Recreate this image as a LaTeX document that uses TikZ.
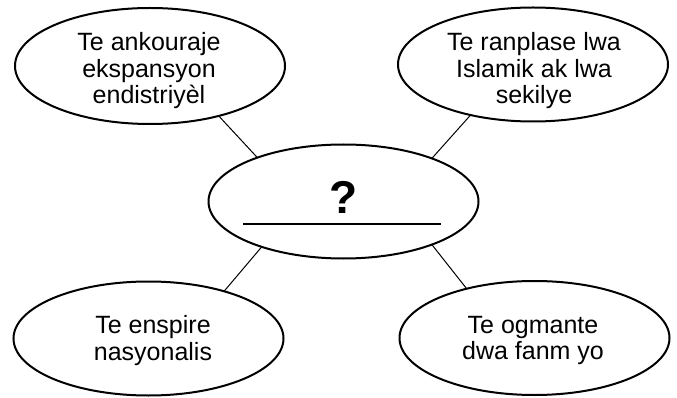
\documentclass[tikz,border=0pt]{standalone}
\usepackage{fontspec}
\setmainfont{Liberation Sans}
\usetikzlibrary{shapes.geometric}
\begin{document}
\begin{tikzpicture}[x=1pt,y=-1pt,
  bubble/.style={ellipse,draw,line width=2pt,minimum width=270pt,minimum height=114pt,inner sep=0pt,outer sep=0pt},
  btext/.style={align=center,font=\fontsize{25}{26.7}\selectfont,inner sep=0pt,anchor=center},
  link/.style={line width=1pt}]
\useasboundingbox (0,0) rectangle (677,398);
\node[bubble,minimum height=116pt] (tl) at (150,66) {};
\node[bubble,minimum height=114pt] (tr) at (533,64.5) {};
\node[bubble] (c) at (343.5,201.5) {};
\node[bubble] (bl) at (148.5,338.5) {};
\node[bubble] (br) at (534.5,338) {};
\node[btext] (tlt) at (149,70.8) {Te ankouraje\\ekspansyon\\endistriyèl};
\node[btext] (trt) at (534,70.8) {Te ranplase lwa\\Islamik ak lwa\\sekilye};
\node[btext] (blt) at (153,340.6) {Te enspire\\nasyonalis};
\node[btext] (brt) at (533,340.6) {Te ogmante\\dwa fanm yo};
\node[font=\fontsize{46}{46}\bfseries\selectfont,inner sep=0pt,anchor=base] (q) at (343.5,214) {?};
\coordinate (ul1) at (243,224);
\coordinate (ul2) at (441,224);
\draw[line width=2pt] (ul1) -- (ul2);
\draw[link] (tl.-36) -- (c.153);
\draw[link] (tr.219) -- (c.26);
\draw[link] (bl.32) -- (c.209);
\draw[link] (br.144) -- (c.-26.4);
\end{tikzpicture}
\end{document}
